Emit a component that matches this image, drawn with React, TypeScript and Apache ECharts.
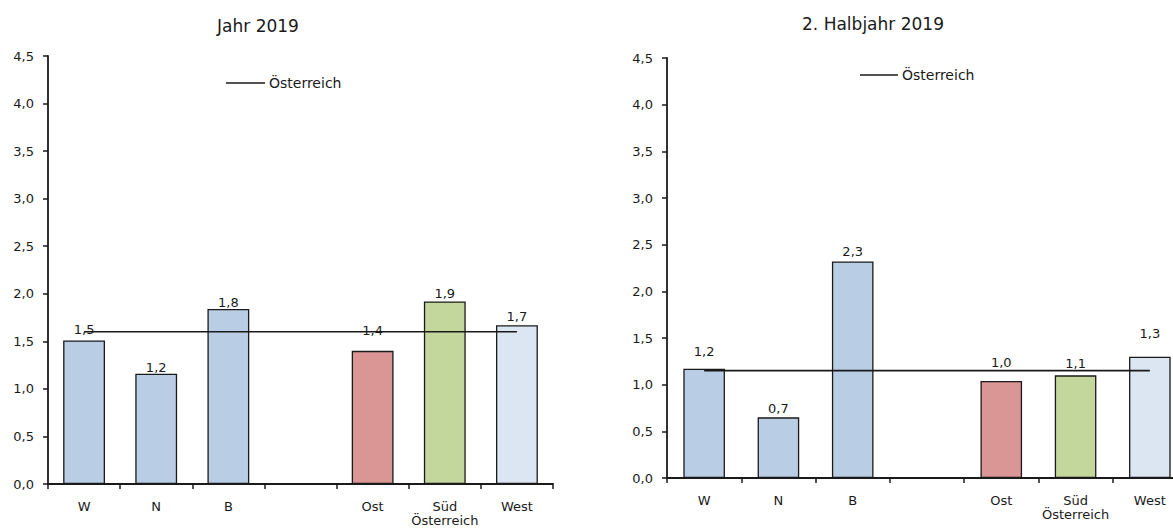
import React, { useEffect, useRef } from "react";
import * as echarts from "echarts";

const categories = ["W", "N", "B", "", "Ost", "Süd\nÖsterreich", "West"];
const leftValues = [1.51, 1.16, 1.84, null, 1.4, 1.92, 1.67];
const rightValues = [1.17, 0.65, 2.32, null, 1.04, 1.1, 1.3];
const leftAustria = 1.6;
const rightAustria = 1.15;
const leftTitle = "Jahr 2019";
const rightTitle = "2. Halbjahr 2019";
const lineName = "Österreich";
const yTicks = { min: 0, max: 4.5, interval: 0.5 };

// style config
const barColors = ["#b9cde5", "#b9cde5", "#b9cde5", "#b9cde5", "#d99694", "#c3d69b", "#dce6f2"];
const leftLabelDist = [4, 0, 0, 0, 14, 1, 2];
const rightLabelDist = [11, 2, 3, 0, 12, 5, 17];

const FONT = "DejaVu Sans";
const INK = "#1a1a1a";

const fmt = (v: number) => v.toFixed(1).replace(".", ",");

function barData(values: (number | null)[], dists: number[]) {
  return values.map((v, i) =>
    v == null
      ? null
      : {
          value: v,
          itemStyle: { color: barColors[i], borderColor: INK, borderWidth: 1.3 },
          label: { distance: dists[i] },
        }
  );
}

export default function App() {
  const ref = useRef<HTMLDivElement>(null);
  useEffect(() => {
    if (!ref.current) return;
    const chart = echarts.init(ref.current, null, { renderer: "svg" });
    const axisLineStyle = { color: INK, width: 1.8 };
    const xAxisBase = {
      type: "category" as const,
      data: categories,
      axisLine: { lineStyle: axisLineStyle },
      axisTick: { show: true, length: 5, lineStyle: { color: INK, width: 1.5 } },
      axisLabel: { color: INK, fontFamily: FONT, fontSize: 13, margin: 15, lineHeight: 14, interval: 0 },
    };
    const yAxisBase = {
      type: "value" as const,
      min: yTicks.min,
      max: yTicks.max,
      interval: yTicks.interval,
      axisLine: { show: true, lineStyle: axisLineStyle },
      axisTick: { show: true, length: 5, lineStyle: { color: INK, width: 1.5 } },
      splitLine: { show: false },
      axisLabel: { color: INK, fontFamily: FONT, fontSize: 13, margin: 14, formatter: (v: number) => fmt(v) },
    };
    const barLabel = {
      show: true,
      position: "top" as const,
      color: INK,
      fontFamily: FONT,
      fontSize: 13,
      formatter: (p: any) => fmt(p.value),
    };
    chart.setOption({
      animation: false,
      textStyle: { fontFamily: FONT },
      grid: [
        { left: 48, width: 505, top: 56, bottom: 48 },
        { left: 667, width: 520, top: 58, bottom: 54 },
      ],
      xAxis: [
        { ...xAxisBase, gridIndex: 0 },
        { ...xAxisBase, gridIndex: 1 },
      ],
      yAxis: [
        { ...yAxisBase, gridIndex: 0 },
        { ...yAxisBase, gridIndex: 1 },
      ],
      series: [
        {
          type: "bar",
          xAxisIndex: 0,
          yAxisIndex: 0,
          barWidth: "58%",
          data: barData(leftValues, leftLabelDist),
          label: barLabel,
          z: 2,
        },
        {
          type: "line",
          name: lineName,
          xAxisIndex: 0,
          yAxisIndex: 0,
          data: categories.map(() => leftAustria),
          symbol: "none",
          lineStyle: { color: INK, width: 1.6 },
          z: 3,
        },
        {
          type: "bar",
          xAxisIndex: 1,
          yAxisIndex: 1,
          barWidth: "56%",
          data: barData(rightValues, rightLabelDist),
          label: barLabel,
          z: 2,
        },
        {
          type: "line",
          name: lineName,
          xAxisIndex: 1,
          yAxisIndex: 1,
          data: categories.map(() => rightAustria),
          symbol: "none",
          lineStyle: { color: INK, width: 1.6 },
          z: 3,
        },
      ],
      graphic: [
        {
          type: "text",
          x: 258,
          y: 26,
          style: { text: leftTitle, fill: INK, font: `17px "${FONT}"`, align: "center", verticalAlign: "middle" },
        },
        {
          type: "text",
          x: 873,
          y: 24,
          style: { text: rightTitle, fill: INK, font: `17px "${FONT}"`, align: "center", verticalAlign: "middle" },
        },
        { type: "line", shape: { x1: 226, y1: 83, x2: 265, y2: 83 }, style: { stroke: INK, lineWidth: 1.5 } },
        {
          type: "text",
          x: 269,
          y: 83,
          style: { text: lineName, fill: INK, font: `14px "${FONT}"`, align: "left", verticalAlign: "middle" },
        },
        { type: "line", shape: { x1: 860, y1: 75, x2: 898, y2: 75 }, style: { stroke: INK, lineWidth: 1.5 } },
        {
          type: "text",
          x: 902,
          y: 75,
          style: { text: lineName, fill: INK, font: `14px "${FONT}"`, align: "left", verticalAlign: "middle" },
        },
      ],
    });
    return () => chart.dispose();
  }, []);
  return (
    <div style={{ position: "absolute", left: 0, top: 0, width: 1173, height: 532, overflow: "hidden", background: "#fff" }}>
      <div ref={ref} style={{ width: 1200, height: 532 }} />
    </div>
  );
}
